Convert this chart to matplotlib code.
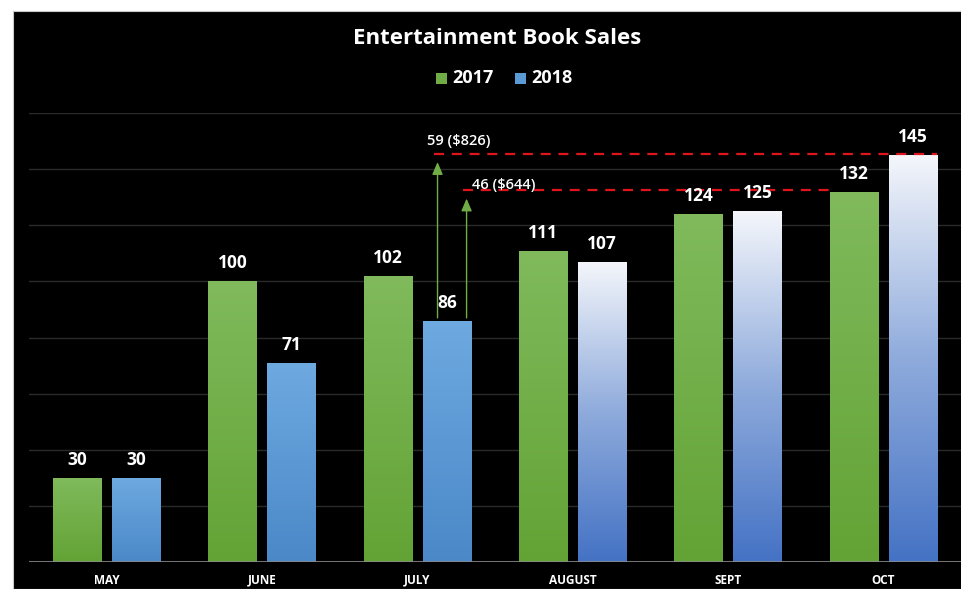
import numpy as np
import matplotlib
matplotlib.use('Agg')
import matplotlib.pyplot as plt
from matplotlib.patches import Rectangle
from matplotlib.colors import LinearSegmentedColormap

plt.rcParams['font.family'] = ['Open Sans', 'DejaVu Sans']

# data
months = ['MAY', 'JUNE', 'JULY', 'AUGUST', 'SEPT', 'OCT']
sales_2017 = [30, 100, 102, 111, 124, 132]
sales_2018 = [30, 71, 86, 107, 125, 145]
years = ['2017', '2018']
gap_labels = ['59 ($826)', '46 ($644)']
gap_targets = [145, 132]

fig = plt.figure(figsize=(9.61, 5.89), dpi=100)
fig.patch.set_facecolor('white')
# black screenshot panel
fig.patches.append(Rectangle((13 / 961, 0), 1, 1 - 11 / 589, transform=fig.transFigure,
                             facecolor='black', edgecolor='#c8c8c8', lw=0.8, zorder=-10))

ax = fig.add_axes([29 / 961, 27 / 589, 1 - 29 / 961, 449 / 589])
ax.set_facecolor('none')
for s in ax.spines.values():
    s.set_visible(False)
ax.set_yticks(np.arange(20, 161, 20))
ax.yaxis.grid(True, color='#2a2a2a', lw=1)
ax.set_axisbelow(True)
ax.tick_params(axis='y', left=False, labelleft=False)
ax.tick_params(axis='x', bottom=False, colors='white', pad=5)
ax.axhline(0, color='#8a8a8a', lw=1.2, zorder=3)

x = np.arange(len(months))
w = 0.31
off = 0.19
ax.set_xticks(x)
ax.set_xticklabels(months, fontsize=8.5, fontweight='bold', color='white')

green = LinearSegmentedColormap.from_list('g', ['#63a335', '#80ba5c'])
blue_solid = LinearSegmentedColormap.from_list('b', ['#4a88c8', '#6ea9e0'])
blue_fade = LinearSegmentedColormap.from_list('bf', ['#4472c4', '#8fabdc', '#f4f6fb'])
grad = np.linspace(0, 1, 256).reshape(-1, 1)


def grad_bar(xc, h, cmap):
    bar = ax.bar(xc, h, w, color='none', edgecolor='none', zorder=2)[0]
    im = ax.imshow(grad, cmap=cmap, origin='lower', aspect='auto', zorder=2,
                   extent=[xc - w / 2, xc + w / 2, 0, h], interpolation='bicubic')
    im.set_clip_path(bar)
    return bar


for i, (a, b) in enumerate(zip(sales_2017, sales_2018)):
    grad_bar(x[i] - off, a, green)
    grad_bar(x[i] + off, b, blue_solid if i < 3 else blue_fade)
    for xc, v in ((x[i] - off, a), (x[i] + off, b)):
        ax.text(xc, v + 3.2, str(v), ha='center', va='bottom', color='white',
                fontsize=12.5, fontweight='bold', zorder=6)

ax.set_xlim(-0.5, 5.5)
ax.set_ylim(0, 160)

# gap arrows from July 2018 bar
jul = 2
arrow_x = [x[jul] + off - 0.06, x[jul] + off + 0.127]
dash_end = [x[5] + off + w / 2, x[5] - off - w / 2 + 0.04]
for ax_x, tgt, end in zip(arrow_x, gap_targets, dash_end):
    ax.annotate('', xy=(ax_x, tgt - 1.5), xytext=(ax_x, sales_2018[jul]),
                arrowprops=dict(arrowstyle='-|>,head_width=0.32,head_length=0.75',
                                color='#70ad47', lw=1), zorder=5)
    ax.plot([ax_x - 0.02, end], [tgt + 0.5, tgt + 0.5], color='#e0141c', lw=1.6,
            ls=(0, (4.5, 3.5)), zorder=4)
ax.text(arrow_x[0] - 0.07, gap_targets[0] + 5, gap_labels[0], color='white',
        fontsize=10.5, fontweight='semibold', ha='left', va='center', zorder=6)
ax.text(arrow_x[1] + 0.035, gap_targets[1] + 2.3, gap_labels[1], color='white',
        fontsize=10.5, fontweight='semibold', ha='left', va='center', zorder=6)

fig.text(497 / 961, 1 - 38 / 589, 'Entertainment Book Sales', color='white', fontsize=16,
         fontweight='bold', ha='center', va='center')

# legend
leg_cols = ['#70ad47', '#5b9bd5']
lx = [436, 515]
for px, c, yr in zip(lx, leg_cols, years):
    fig.patches.append(Rectangle((px / 961, 1 - 84 / 589), 11 / 961, 11 / 589,
                                 transform=fig.transFigure, facecolor=c, edgecolor='none'))
    fig.text((px + 16) / 961, 1 - 78 / 589, yr, color='white', fontsize=13,
             fontweight='bold', ha='left', va='center')

fig.savefig('out.png', dpi=100, facecolor=fig.get_facecolor())
